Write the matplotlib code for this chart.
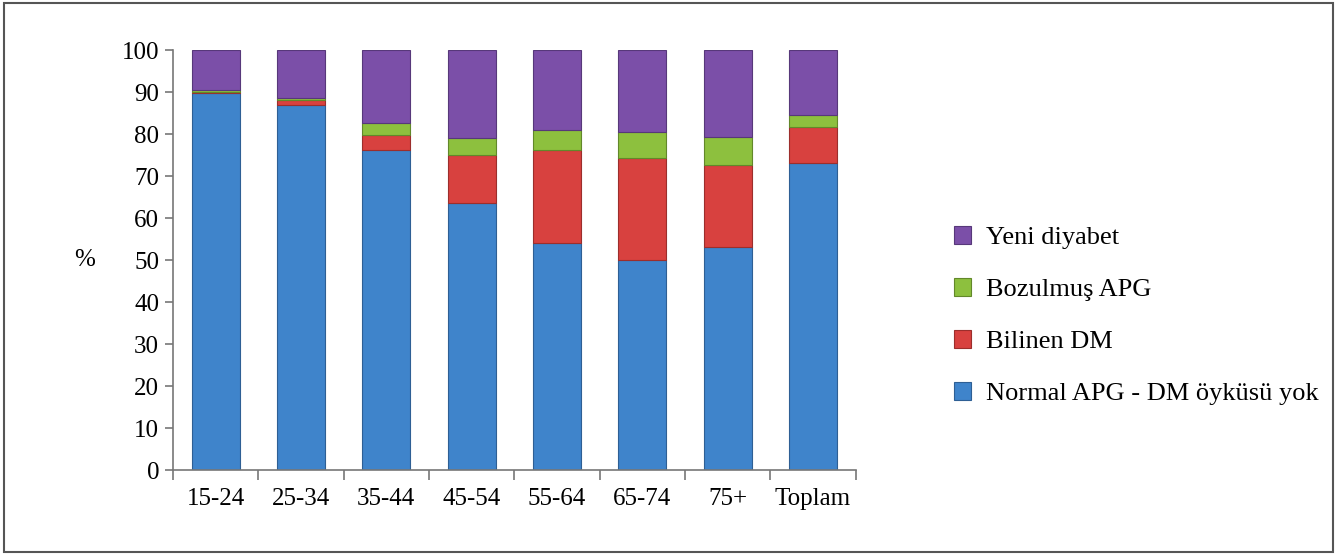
import numpy as np
import matplotlib.pyplot as plt
from matplotlib.patches import Rectangle

plt.rcParams['font.family'] = ['Liberation Serif', 'DejaVu Serif']

# Veriler (grafikten okunan yüzdeler)
gruplar = ["15-24", "25-34", "35-44", "45-54", "55-64", "65-74", "75+", "Toplam"]
normal = [89.7, 86.9, 76.2, 63.6, 54.0, 50.0, 53.1, 73.1]
bilinen_dm = [0.4, 1.1, 3.6, 11.4, 22.2, 24.3, 19.5, 8.6]
bozulmus = [0.5, 0.6, 2.8, 4.0, 4.8, 6.2, 6.7, 2.8]
yeni = [9.4, 11.4, 17.4, 21.0, 19.0, 19.5, 20.7, 15.5]

seriler = ["Normal APG - DM öyküsü yok", "Bilinen DM", "Bozulmuş APG", "Yeni diyabet"]
renkler = ["#3F84CB", "#D8413F", "#8DC03E", "#7B4FA8"]
kenarlar = ["#2E5F94", "#9C2E2C", "#62882A", "#57387A"]

fig = plt.figure(figsize=(13.37, 5.54), dpi=100)
ax = fig.add_axes([0.1294, 0.1516, 0.5106, 0.7581])

# Dış çerçeve
fig.patches.append(Rectangle((0.003, 0.004), 0.994, 0.99, transform=fig.transFigure,
                             fill=False, edgecolor="#555555", linewidth=1.5))

x = np.arange(len(gruplar))
alt = np.zeros(len(gruplar))
cubuklar = []
for vals, ad, renk, kenar in zip([normal, bilinen_dm, bozulmus, yeni], seriler, renkler, kenarlar):
    b = ax.bar(x, vals, width=0.56, bottom=alt, color=renk, edgecolor=kenar,
               linewidth=0.8, label=ad)
    cubuklar.append(b)
    alt += np.array(vals)

ax.set_xlim(-0.5, len(gruplar) - 0.5)
ax.set_ylim(0, 100)
ax.set_yticks(np.arange(0, 101, 10))
ax.set_xticks(x)
ax.set_xticklabels(gruplar)
ax.set_xticks(np.arange(-0.5, len(gruplar)), minor=True)
ax.tick_params(axis='x', which='major', length=0, labelsize=18, pad=13)
ax.tick_params(axis='x', which='minor', length=7, width=1.2, color="#777777", direction='out')
ax.tick_params(axis='y', length=6, width=1.2, color="#777777", labelsize=18, pad=4)

for s in ["top", "right"]:
    ax.spines[s].set_visible(False)
for s in ["left", "bottom"]:
    ax.spines[s].set_color("#777777")
    ax.spines[s].set_linewidth(1.2)

ax.set_ylabel("%", rotation=0, fontsize=18, labelpad=27, va='center')

handles = cubuklar[::-1]
labels = seriler[::-1]
fig.legend(handles, labels, loc='center left', bbox_to_anchor=(0.696, 0.43),
           frameon=False, fontsize=19, handlelength=0.65, handleheight=0.65,
           handletextpad=0.55, labelspacing=1.1)

fig.savefig("out.png", dpi=100)
